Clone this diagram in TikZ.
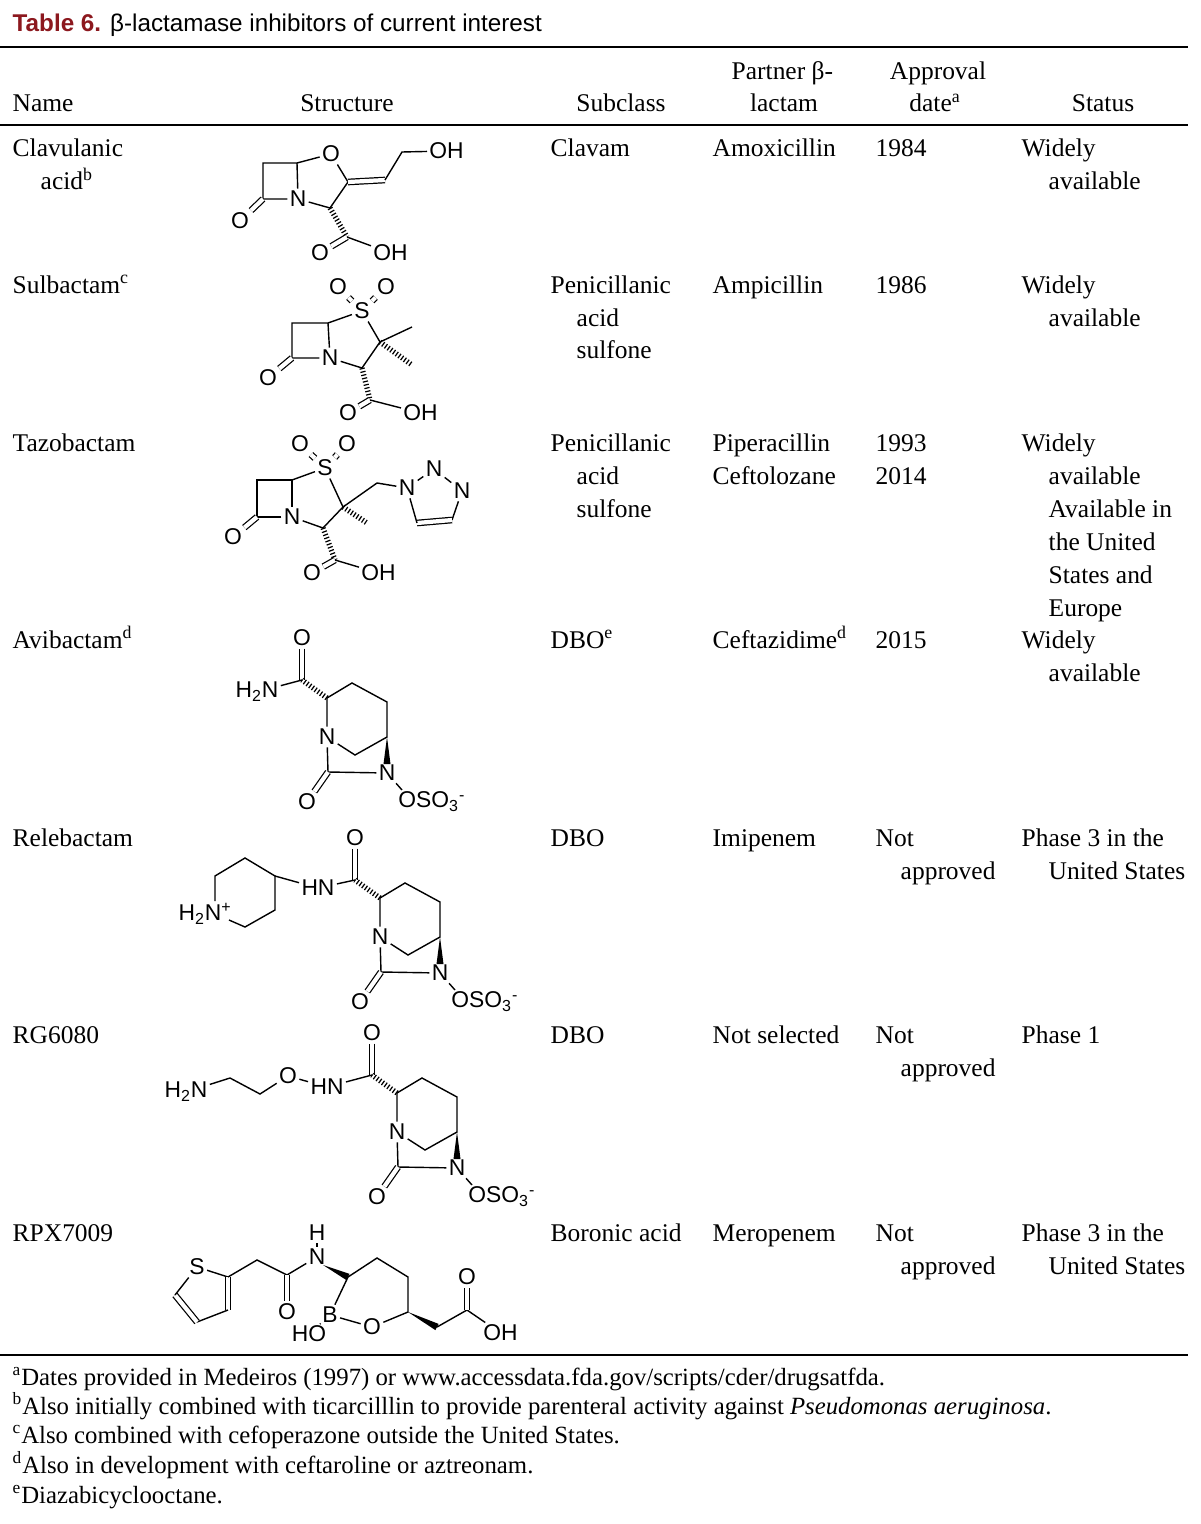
\documentclass[tikz,border=0pt]{standalone}
\usepackage{fontspec}
\setmainfont{Liberation Serif}
\newfontfamily\chemfont{Liberation Sans}
\usetikzlibrary{calc}
\definecolor{titlered}{RGB}{140,24,30}
\newcounter{tn}
\newcommand{\tx}[4][txt]{\stepcounter{tn}\node[#1] (t\thetn) at (#2,#3) {#4};}
\newcommand{\hb}[2]{\draw[hash] (#1) -- (#2);}
\newcommand{\wb}[2]{\fill ($(#1)$) -- ($(#2)!0.07cm!90:(#1)$) -- ($(#2)!0.07cm!-90:(#1)$) -- cycle;}
\newcommand{\osso}{OSO\textsubscript{3}\textsuperscript{-}}
% diazabicyclooctane core, prefix #1
\newcommand{\dbocore}[1]{
  \node[atom] (#1O) at (302,638) {O};
  \coordinate (#1C) at (302,680);
  \coordinate (#1c2) at (327,698);
  \coordinate (#1c3) at (352,683);
  \coordinate (#1c4) at (387,702);
  \coordinate (#1c5) at (387,737);
  \node[atom] (#1N6) at (387,773) {N};
  \coordinate (#1Nw) at (387,764);
  \node[atom] (#1N1) at (327,737) {N};
  \coordinate (#1ch) at (355,755);
  \coordinate (#1c7) at (328,772);
  \node[atom] (#1O7) at (307,802) {O};
  \node[atom,anchor=west] (#1OS) at (396,802) {\osso};
  \coordinate (#1Ob) at (402,790);
  \draw[dbl] (#1O) -- (#1C);
  \hb{#1c2}{#1C}
  \draw (#1c2) -- (#1c3) -- (#1c4) -- (#1c5) -- (#1ch) -- (#1N1) -- (#1c2);
  \wb{#1c5}{#1Nw}
  \draw (#1N1) -- (#1c7) -- (#1N6) -- (#1Ob);
  \draw[dbl] (#1c7) -- (#1O7);
}
\begin{document}
\begin{tikzpicture}[x=0.02cm,y=-0.02cm,line width=0.8pt,
  txt/.style={anchor=base west,inner sep=0pt,font=\fontsize{14.5}{17}\selectfont},
  ctxt/.style={txt,anchor=base},
  ftxt/.style={txt,font=\fontsize{14.1}{16}\selectfont},
  atom/.style={inner sep=1pt,font=\chemfont\fontsize{13}{14}\selectfont},
  dbl/.style={double,double distance=2.4pt,line width=0.7pt},
  hash/.style={line width=3pt,dash pattern=on 0.7pt off 1.2pt}]
\useasboundingbox (0,0) rectangle (1200,1524);
\fill[white] (0,0) rectangle (1200,1524);

% title and rules
\node[txt,font=\chemfont\fontsize{13.8}{16}\selectfont] (title) at (12,32)
  {\textcolor{titlered}{\textbf{Table 6.}} β-lactamase inhibitors of current interest};
\coordinate (r1a) at (0,47);   \coordinate (r1b) at (1188,47);
\coordinate (r2a) at (0,125);  \coordinate (r2b) at (1188,125);
\coordinate (r3a) at (0,1355); \coordinate (r3b) at (1188,1355);
\draw[line width=1pt] (r1a) -- (r1b) (r2a) -- (r2b) (r3a) -- (r3b);

% header
\tx{731}{80}{Partner β-}
\tx[ctxt]{784}{112}{lactam}
\tx[ctxt]{938}{80}{Approval}
\tx[ctxt]{935}{112}{date\textsuperscript{a}}
\tx{12}{112}{Name}
\tx[ctxt]{347}{112}{Structure}
\tx[ctxt]{621}{112}{Subclass}
\tx[ctxt]{1103}{112}{Status}

% rows
\tx{12}{157}{Clavulanic}  \tx{40}{190}{acid\textsuperscript{b}}
\tx{550}{157}{Clavam} \tx{712}{157}{Amoxicillin} \tx{875}{157}{1984}
\tx{1021}{157}{Widely} \tx{1048}{190}{available}

\tx{12}{293}{Sulbactam\textsuperscript{c}}
\tx{550}{293}{Penicillanic} \tx{576}{326}{acid} \tx{576}{358}{sulfone}
\tx{712}{293}{Ampicillin} \tx{875}{293}{1986}
\tx{1021}{293}{Widely} \tx{1048}{326}{available}

\tx{12}{451}{Tazobactam}
\tx{550}{451}{Penicillanic} \tx{576}{484}{acid} \tx{576}{517}{sulfone}
\tx{712}{451}{Piperacillin} \tx{712}{484}{Ceftolozane}
\tx{875}{451}{1993} \tx{875}{484}{2014}
\tx{1021}{451}{Widely} \tx{1048}{484}{available} \tx{1048}{517}{Available in}
\tx{1048}{550}{the United} \tx{1048}{583}{States and} \tx{1048}{616}{Europe}

\tx{12}{648}{Avibactam\textsuperscript{d}}
\tx{550}{648}{DBO\textsuperscript{e}} \tx{712}{648}{Ceftazidime\textsuperscript{d}}
\tx{875}{648}{2015} \tx{1021}{648}{Widely} \tx{1048}{681}{available}

\tx{12}{846}{Relebactam}
\tx{550}{846}{DBO} \tx{712}{846}{Imipenem} \tx{875}{846}{Not} \tx{900}{879}{approved}
\tx{1021}{846}{Phase 3 in the} \tx{1048}{879}{United States}

\tx{12}{1043}{RG6080}
\tx{550}{1043}{DBO} \tx{712}{1043}{Not selected} \tx{875}{1043}{Not} \tx{900}{1076}{approved}
\tx{1021}{1043}{Phase 1}

\tx{12}{1241}{RPX7009}
\tx{550}{1241}{Boronic acid} \tx{712}{1241}{Meropenem} \tx{875}{1241}{Not} \tx{900}{1274}{approved}
\tx{1021}{1241}{Phase 3 in the} \tx{1048}{1274}{United States}

% footnotes
\tx[ftxt]{12}{1385}{\textsuperscript{a}Dates provided in Medeiros (1997) or www.accessdata.fda.gov/scripts/cder/drugsatfda.}
\tx[ftxt]{12}{1414}{\textsuperscript{b}Also initially combined with ticarcilllin to provide parenteral activity against \textit{Pseudomonas aeruginosa}.}
\tx[ftxt]{12}{1443}{\textsuperscript{c}Also combined with cefoperazone outside the United States.}
\tx[ftxt]{12}{1473}{\textsuperscript{d}Also in development with ceftaroline or aztreonam.}
\tx[ftxt]{12}{1503}{\textsuperscript{e}Diazabicyclooctane.}

% clavulanic acid
\coordinate (a1) at (263,163); \coordinate (a2) at (297,163);
\node[atom] (aN) at (298,199) {N};
\coordinate (a3) at (263,199);
\node[atom] (aO1) at (240,221) {O};
\node[atom] (aO) at (331,154) {O};
\coordinate (a4) at (348,182); \coordinate (a5) at (330,208);
\coordinate (a6) at (385,180); \coordinate (a7) at (402,152);
\node[atom,anchor=west] (aOH) at (427,151) {OH};
\coordinate (a8) at (347,237);
\node[atom] (aO2) at (320,253) {O};
\node[atom,anchor=west] (aOH2) at (371,253) {OH};
\draw (a3) -- (a1) -- (a2) -- (aN) -- (a3);
\draw[dbl] (a3) -- (aO1);
\draw (a2) -- (aO) -- (a4) -- (a5) -- (aN);
\draw[dbl] (a4) -- (a6);
\draw (a6) -- (a7) -- (aOH);
\hb{a5}{a8}
\draw[dbl] (a8) -- (aO2);
\draw (a8) -- (aOH2);

% sulbactam
\coordinate (b1) at (292,323); \coordinate (b2) at (328,323);
\node[atom] (bN) at (330,358) {N};
\coordinate (b3) at (292,358);
\node[atom] (bO1) at (268,378) {O};
\node[atom] (bS) at (362,311) {S};
\node[atom] (bOa) at (338,287) {O}; \node[atom] (bOb) at (386,287) {O};
\coordinate (b4) at (380,342); \coordinate (b5) at (412,327);
\coordinate (b6) at (412,365); \coordinate (b7) at (362,368);
\coordinate (b8) at (370,400);
\node[atom] (bO2) at (348,413) {O};
\node[atom,anchor=west] (bOH) at (401,413) {OH};
\draw (b3) -- (b1) -- (b2) -- (bN) -- (b3);
\draw[dbl] (b3) -- (bO1);
\draw (b2) -- (bS) -- (b4) -- (b5);
\draw[dbl] (bS) -- (bOa); \draw[dbl] (bS) -- (bOb);
\hb{b4}{b6}
\draw (b4) -- (b7) -- (bN);
\hb{b7}{b8}
\draw[dbl] (b8) -- (bO2);
\draw (b8) -- (bOH);

% tazobactam
\coordinate (c1) at (257,480); \coordinate (c2) at (292,480);
\node[atom] (cN) at (292,517) {N};
\coordinate (c3) at (257,517);
\node[atom] (cO1) at (233,537) {O};
\node[atom] (cS) at (325,468) {S};
\node[atom] (cOa) at (300,444) {O}; \node[atom] (cOb) at (347,444) {O};
\coordinate (c4) at (343,507); \coordinate (c5) at (367,523);
\coordinate (c6) at (377,483);
\node[atom] (cN1) at (407,488) {N};
\node[atom] (cN2) at (434,469) {N};
\node[atom] (cN3) at (462,491) {N};
\coordinate (c7) at (452,520); \coordinate (c8) at (417,523);
\coordinate (c9) at (323,528); \coordinate (c10) at (335,560);
\node[atom] (cO2) at (312,573) {O};
\node[atom,anchor=west] (cOH) at (359,573) {OH};
\draw (c3) -- (c1) -- (c2) -- (cN) -- (c3);
\draw[dbl] (c3) -- (cO1);
\draw (c2) -- (cS) -- (c4) -- (c6) -- (cN1) -- (cN2) -- (cN3) -- (c7);
\draw[dbl] (cS) -- (cOa); \draw[dbl] (cS) -- (cOb);
\draw[dbl] (c7) -- (c8);
\draw (c8) -- (cN1);
\hb{c4}{c5}
\draw (c4) -- (c9) -- (cN);
\hb{c9}{c10}
\draw[dbl] (c10) -- (cO2);
\draw (c10) -- (cOH);

% avibactam
\dbocore{d}
\node[atom] (dNH2) at (257,692) {H\textsubscript{2}N};
\draw (dC) -- (dNH2);

% relebactam
\begin{scope}[shift={(53,200)}]
\dbocore{e}
\end{scope}
\node[atom] (eHN) at (318,888) {HN};
\draw (eC) -- (eHN);
\coordinate (p1) at (245,858); \coordinate (p2) at (275,876);
\coordinate (p3) at (275,910); \coordinate (p4) at (245,927);
\coordinate (p6) at (215,876);
\node[atom,anchor=east] (pN) at (234,914) {H\textsubscript{2}N\textsuperscript{+}};
\coordinate (pNa) at (215,901); \coordinate (pNb) at (229,920);
\draw (pNa) -- (p6) -- (p1) -- (p2) -- (p3) -- (p4) -- (pNb);
\draw (p2) -- (eHN);

% RG6080
\begin{scope}[shift={(70,395)}]
\dbocore{f}
\end{scope}
\node[atom] (fHN) at (327,1087) {HN};
\node[atom] (fO) at (288,1076) {O};
\coordinate (f1) at (260,1094); \coordinate (f2) at (230,1078);
\node[atom] (fNH2) at (186,1092) {H\textsubscript{2}N};
\draw (fC) -- (fHN);
\draw (fHN) -- (fO) -- (f1) -- (f2) -- (fNH2);

% RPX7009
\node[atom] (gS) at (197,1267) {S};
\coordinate (g2) at (228,1277); \coordinate (g3) at (228,1310);
\coordinate (g4) at (197,1322); \coordinate (g5) at (175,1295);
\coordinate (gch) at (257,1260); \coordinate (gC) at (287,1275);
\node[atom] (gO) at (287,1312) {O};
\node[atom] (gN) at (317,1257) {N};
\node[atom] (gH) at (317,1233) {H};
\coordinate (gNe) at (323,1265);
\coordinate (ga) at (348,1277); \coordinate (gb) at (377,1258);
\coordinate (gc) at (408,1277); \coordinate (gd) at (408,1312);
\node[atom] (gOr) at (372,1327) {O};
\node[atom] (gB) at (330,1315) {B};
\node[atom] (gHO) at (309,1334) {HO};
\coordinate (gch2) at (437,1327); \coordinate (gCa) at (467,1310);
\node[atom] (gOa) at (467,1277) {O};
\node[atom,anchor=west] (gOH) at (481,1333) {OH};
\draw (gS) -- (g2);
\draw[dbl] (g2) -- (g3);
\draw (g3) -- (g4);
\draw[dbl] (g4) -- (g5);
\draw (g5) -- (gS);
\draw (g2) -- (gch) -- (gC) -- (gN);
\draw[dbl] (gC) -- (gO);
\draw (gN) -- (gH);
\wb{gNe}{ga}
\draw (ga) -- (gb) -- (gc) -- (gd) -- (gOr) -- (gB) -- (ga);
\draw (gB) -- (gHO);
\wb{gd}{gch2}
\draw (gch2) -- (gCa) -- (gOH);
\draw[dbl] (gCa) -- (gOa);
\end{tikzpicture}
\end{document}
